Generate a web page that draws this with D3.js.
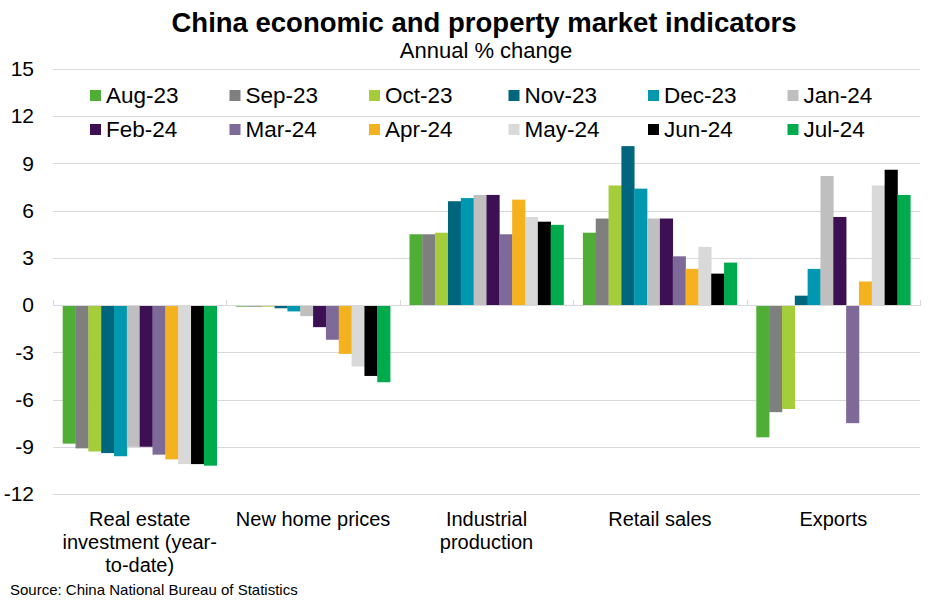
<!DOCTYPE html>
<html>
<head>
<meta charset="utf-8">
<script src="https://cdn.jsdelivr.net/npm/d3@7/dist/d3.min.js"></script>
<style>
  html, body { margin: 0; padding: 0; background: #fff; }
  svg { display: block; font-family: "Liberation Sans", Arial, sans-serif; }
</style>
</head>
<body>
<svg id="chart" width="931" height="606"></svg>
<script>
const categories = ["Real estate investment (year-to-date)", "New home prices", "Industrial production", "Retail sales", "Exports"];
const categoryLines = [["Real estate", "investment (year-", "to-date)"], ["New home prices"], ["Industrial", "production"], ["Retail sales"], ["Exports"]];
const seriesNames = ["Aug-23", "Sep-23", "Oct-23", "Nov-23", "Dec-23", "Jan-24", "Feb-24", "Mar-24", "Apr-24", "May-24", "Jun-24", "Jul-24"];
const seriesColors = ["#50AE37", "#7F7F7F", "#A5CD39", "#00667E", "#0098AF", "#BFBFBF", "#3C1053", "#7D6A98", "#F5B21F", "#D9D9D9", "#000000", "#00AB4E"];
// values per category, one per series (Aug-23 .. Jul-24)
const realEstate = [-8.8, -9.1, -9.3, -9.4, -9.6, -9.0, -9.0, -9.5, -9.8, -10.1, -10.1, -10.2];
const homePrices = [-0.1, -0.1, -0.1, -0.2, -0.4, -0.7, -1.4, -2.2, -3.1, -3.9, -4.5, -4.9];
const industrial = [4.5, 4.5, 4.6, 6.6, 6.8, 7.0, 7.0, 4.5, 6.7, 5.6, 5.3, 5.1];
const retail = [4.6, 5.5, 7.6, 10.1, 7.4, 5.5, 5.5, 3.1, 2.3, 3.7, 2.0, 2.7];
const exportsVals = [-8.4, -6.8, -6.6, 0.6, 2.3, 8.2, 5.6, -7.5, 1.5, 7.6, 8.6, 7.0];
const yTicks = [15, 12, 9, 6, 3, 0, -3, -6, -9, -12];

const values = [realEstate, homePrices, industrial, retail, exportsVals];

const svg = d3.select("#chart");
const plotLeft = 53, plotRight = 920, plotTop = 69, plotBottom = 494;

const x0 = d3.scaleBand().domain(categories).range([plotLeft, plotRight]).paddingInner(0).paddingOuter(0);
const x1 = d3.scaleBand().domain(seriesNames).range([0, x0.bandwidth()]).paddingInner(0).paddingOuter(0.755);
const y = d3.scaleLinear().domain([-12, 15]).range([plotBottom, plotTop]);

// Title
svg.append("text").attr("x", 484).attr("y", 32).attr("text-anchor", "middle")
  .attr("font-size", 27.5).attr("font-weight", "bold").attr("fill", "#000")
  .text("China economic and property market indicators");
svg.append("text").attr("x", 486).attr("y", 58).attr("text-anchor", "middle")
  .attr("font-size", 22).attr("fill", "#000").text("Annual % change");

// Gridlines
svg.append("g").selectAll("line").data(yTicks).join("line")
  .attr("x1", plotLeft).attr("x2", plotRight)
  .attr("y1", d => Math.round(y(d)) + 0.5).attr("y2", d => Math.round(y(d)) + 0.5)
  .attr("stroke", "#D9D9D9").attr("stroke-width", 1);

// Y axis labels
const yAxis = d3.axisLeft(y).tickValues(yTicks).tickSize(0).tickPadding(0).tickFormat(d => String(d));
const yg = svg.append("g").attr("transform", `translate(34,0)`).call(yAxis);
yg.select(".domain").remove();
yg.selectAll("text").attr("font-size", 21).attr("fill", "#000")
  .attr("font-family", "'Liberation Sans', Arial, sans-serif");

// Legend
const legend = svg.append("g");
seriesNames.forEach((s, i) => {
  const col = i % 6, row = Math.floor(i / 6);
  const lx = 90 + col * 139.5;
  const ly = 95 + row * 34;
  legend.append("rect").attr("x", lx).attr("y", ly - 5).attr("width", 11).attr("height", 11).attr("fill", seriesColors[i]);
  legend.append("text").attr("x", lx + 16).attr("y", ly + 8).attr("font-size", 22.5).attr("fill", "#000").text(s);
});

// Bars
const groups = svg.append("g").selectAll("g").data(categories).join("g")
  .attr("transform", d => `translate(${x0(d)},0)`);
groups.selectAll("rect").data((d, ci) => values[ci].map((v, si) => ({ s: seriesNames[si], v, c: seriesColors[si] })))
  .join("rect")
  .attr("x", d => x1(d.s))
  .attr("width", x1.bandwidth() + 0.3)
  .attr("y", d => y(Math.max(0, d.v)))
  .attr("height", d => Math.abs(y(d.v) - y(0)))
  .attr("fill", d => d.c);

// Zero axis line and ticks
svg.append("line").attr("x1", plotLeft).attr("x2", plotRight)
  .attr("y1", Math.round(y(0)) + 0.5).attr("y2", Math.round(y(0)) + 0.5)
  .attr("stroke", "#D9D9D9").attr("stroke-width", 1);
const boundaries = categories.map(c => x0(c)).concat([plotRight]);
svg.append("g").selectAll("line").data(boundaries).join("line")
  .attr("x1", d => Math.round(d) + 0.5).attr("x2", d => Math.round(d) + 0.5)
  .attr("y1", Math.round(y(0)) - 5).attr("y2", Math.round(y(0)) + 1)
  .attr("stroke", "#D9D9D9").attr("stroke-width", 1);

// Category labels
const xAxis = d3.axisBottom(x0).tickSize(0).tickFormat("");
const xg = svg.append("g").attr("transform", `translate(0,${plotBottom})`).call(xAxis);
xg.select(".domain").remove();
xg.selectAll(".tick text").remove();
xg.selectAll(".tick").each(function(d, i) {
  const t = d3.select(this).append("text").attr("text-anchor", "middle").attr("font-size", 20)
    .attr("fill", "#000").attr("font-family", "'Liberation Sans', Arial, sans-serif");
  categoryLines[i].forEach((ln, k) => {
    t.append("tspan").attr("x", 0).attr("y", 32 + k * 23).text(ln);
  });
});

// Source
svg.append("text").attr("x", 10).attr("y", 595).attr("font-size", 15).attr("fill", "#000")
  .text("Source: China National Bureau of Statistics");
</script>
</body>
</html>
